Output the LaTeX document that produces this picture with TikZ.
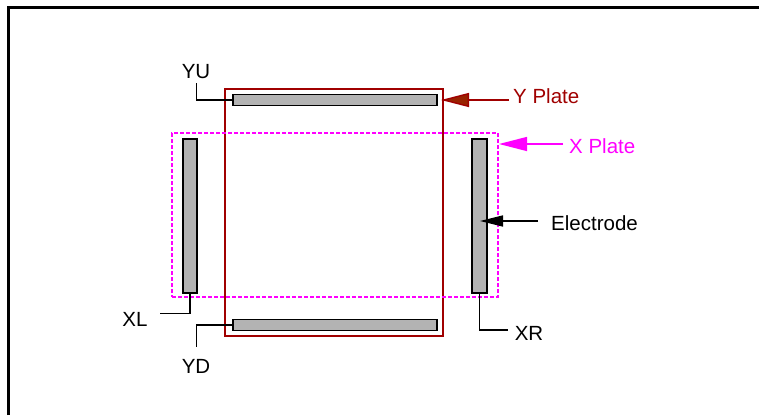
\documentclass[tikz,border=0pt]{standalone}
\usepackage{fontspec}
\setmainfont{Liberation Sans}
\usetikzlibrary{arrows.meta}
\definecolor{yred}{RGB}{160,0,0}
\definecolor{yfill}{RGB}{153,34,0}
\definecolor{xmag}{RGB}{255,0,255}
\definecolor{bargray}{RGB}{179,179,179}
\begin{document}
\begin{tikzpicture}[x=1pt,y=-1pt,
  bar/.style={draw=black,fill=bargray,line width=1.4pt,inner sep=0pt},
  lead/.style={draw=black,line width=1.2pt},
  lbl/.style={font=\fontsize{20.5}{24}\selectfont,inner sep=0pt,anchor=center},
  frameline/.style={line width=3pt,black}]
\useasboundingbox (0,0) rectangle (759,415);
\draw[frameline] (8,415) -- (8,7) -- (759,7);
% Y plate region
\node[draw=yred,line width=1.3pt,minimum width=218pt,minimum height=247pt,inner sep=0pt] (yplate) at (334,212.5) {};
% X plate region
\node[draw=xmag,dashed,dash pattern=on 4pt off 2pt,line width=1.3pt,minimum width=326pt,minimum height=164pt,inner sep=0pt] (xplate) at (335,215) {};
% bars
\node[bar,minimum width=204pt,minimum height=11.5pt] (yu) at (335,100) {};
\node[bar,minimum width=204pt,minimum height=11.5pt] (yd) at (335,325) {};
\node[bar,minimum width=14pt,minimum height=154pt] (xl) at (190,216) {};
\node[bar,minimum width=15pt,minimum height=154pt] (xr) at (479.5,216) {};
% labels
\node[lbl] (tyu) at (196,72) {YU};
\node[lbl] (tyd) at (196,366) {YD};
\node[lbl] (txl) at (135,319) {XL};
\node[lbl] (txr) at (529,333) {XR};
\node[lbl,anchor=west,text=yred] (typ) at (513,96) {Y Plate};
\node[lbl,anchor=west,text=xmag] (txp) at (569,146) {X Plate};
\node[lbl,anchor=west] (tel) at (551,223) {Electrode};
% leaders
\coordinate (yuend) at (196.5,83);
\draw[lead] (yu.west) -- (yuend |- yu.west) -- (yuend);
\coordinate (ydend) at (196.5,347);
\draw[lead] (yd.west) -- (ydend |- yd.west) -- (ydend);
\coordinate (xlend) at (160,313.5);
\draw[lead] (xl.south) -- (xl.south |- xlend) -- (xlend);
\coordinate (xrend) at (508,330);
\draw[lead] (xr.south) -- (xr.south |- xrend) -- (xrend);
% arrows
\coordinate (ypstart) at (509,100);
\coordinate (yptip) at (441,100);
\draw[yred,line width=1.4pt,-{Triangle[length=28pt,width=14pt,fill=yfill]}] (ypstart) -- (yptip);
\coordinate (xpstart) at (563,144);
\coordinate (xptip) at (499,144);
\draw[xmag,line width=1.4pt,-{Triangle[length=28pt,width=14pt]}] (xpstart) -- (xptip);
\coordinate (elstart) at (538,221);
\coordinate (eltip) at (480,221);
\draw[black,line width=1.4pt,-{Triangle[length=23pt,width=11pt]}] (elstart) -- (eltip);
\end{tikzpicture}
\end{document}
